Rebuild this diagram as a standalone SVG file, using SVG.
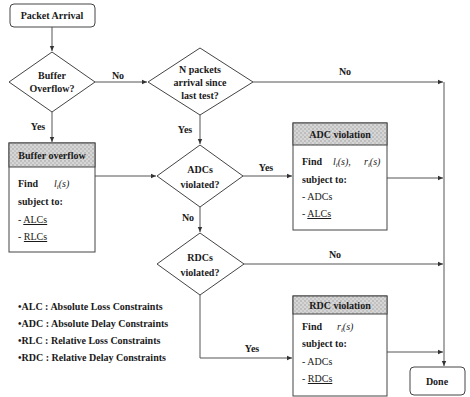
<svg xmlns="http://www.w3.org/2000/svg" width="470" height="397" viewBox="0 0 470 397">
<defs>
<pattern id="hatch" width="4" height="4" patternUnits="userSpaceOnUse">
<rect width="4" height="4" fill="#d6d6d6"/>
<rect width="2" height="2" fill="#bdbdbd"/>
<rect x="2" y="2" width="2" height="2" fill="#c4c4c4"/>
</pattern>
<marker id="arr" markerWidth="6" markerHeight="6" refX="5" refY="3" orient="auto" markerUnits="userSpaceOnUse">
<path d="M0,0.8 L5,3 L0,5.2 Z" fill="#333"/>
</marker>
</defs>
<style>
text{font-family:"Liberation Serif","Times New Roman",serif;font-weight:bold;font-size:10px;fill:#1a1a1a}
.c{text-anchor:middle}
.m{font-style:italic;font-weight:normal}
.n{font-weight:normal}
.u{text-decoration:underline}
.shape{fill:#fff;stroke:#444;stroke-width:1}
.hdr{fill:url(#hatch);stroke:#444;stroke-width:1}
.line{fill:none;stroke:#555;stroke-width:1}
.leg{font-size:10px}
</style>
<rect width="470" height="397" fill="#fff"/>

<g id="connectors">
<path class="line" d="M52,27 V51" marker-end="url(#arr)"/>
<path class="line" d="M95,82 H147" marker-end="url(#arr)"/>
<path class="line" d="M253,82 H443" marker-end="url(#arr)"/>
<path class="line" d="M444,82 V366" marker-end="url(#arr)"/>
<path class="line" d="M52,112 V142" marker-end="url(#arr)"/>
<path class="line" d="M95,176 H156" marker-end="url(#arr)"/>
<path class="line" d="M200,115 V144" marker-end="url(#arr)"/>
<path class="line" d="M243,176 H292" marker-end="url(#arr)"/>
<path class="line" d="M387,178 H443" marker-end="url(#arr)"/>
<path class="line" d="M200,207 V232" marker-end="url(#arr)"/>
<path class="line" d="M244,264 H443" marker-end="url(#arr)"/>
<path class="line" d="M200,295 V358 H292" marker-end="url(#arr)"/>
<path class="line" d="M387,352 H443" marker-end="url(#arr)"/>
<text x="118" y="79" class="c">No</text>
<text x="345" y="75" class="c">No</text>
<text x="38" y="130" class="c">Yes</text>
<text x="185" y="133" class="c">Yes</text>
<text x="266" y="171" class="c">Yes</text>
<text x="188" y="221" class="c">No</text>
<text x="335" y="258" class="c">No</text>
<text x="252" y="352" class="c">Yes</text>
</g>

<g id="packet-arrival">
<rect class="shape" x="10" y="4" width="85" height="23" rx="4"/>
<text x="52" y="19" class="c">Packet Arrival</text>
</g>

<g id="buffer-overflow-q">
<polygon class="shape" points="52,52 95,82 52,112 9,82"/>
<text x="52" y="79" class="c">Buffer</text>
<text x="52" y="92" class="c">Overflow?</text>
</g>

<g id="n-packets-q">
<polygon class="shape" points="200,48 253,82 200,115 148,82"/>
<text x="200" y="73" class="c">N packets</text>
<text x="200" y="86" class="c">arrival since</text>
<text x="200" y="99" class="c">last test?</text>
</g>

<g id="buffer-overflow">
<rect class="shape" x="9" y="143" width="86" height="109"/>
<rect class="hdr" x="9" y="143" width="86" height="24"/>
<text x="52" y="159" class="c">Buffer overflow</text>
<text x="18" y="187">Find</text>
<text x="54" y="187" class="m">l<tspan font-size="7" dy="2">i</tspan><tspan dy="-2">(s)</tspan></text>
<text x="18" y="205">subject to:</text>
<text x="18" y="223" class="n">- <tspan class="u">ALCs</tspan></text>
<text x="18" y="240" class="n">- <tspan class="u">RLCs</tspan></text>
</g>

<g id="adcs-q">
<polygon class="shape" points="200,145 243,176 200,207 157,176"/>
<text x="200" y="173" class="c">ADCs</text>
<text x="200" y="188" class="c">violated?</text>
</g>

<g id="adc-violation">
<rect class="shape" x="293" y="123" width="94" height="107"/>
<rect class="hdr" x="293" y="123" width="94" height="22"/>
<text x="340" y="138" class="c">ADC violation</text>
<text x="302" y="165">Find</text>
<text x="333" y="165" class="m">l<tspan font-size="7" dy="2">i</tspan><tspan dy="-2">(s),</tspan></text>
<text x="364" y="165" class="m">r<tspan font-size="7" dy="2">i</tspan><tspan dy="-2">(s)</tspan></text>
<text x="302" y="183">subject to:</text>
<text x="302" y="200" class="n">- ADCs</text>
<text x="302" y="217" class="n">- <tspan class="u">ALCs</tspan></text>
</g>

<g id="rdcs-q">
<polygon class="shape" points="200,233 244,264 200,295 157,264"/>
<text x="200" y="261" class="c">RDCs</text>
<text x="200" y="276" class="c">violated?</text>
</g>

<g id="rdc-violation">
<rect class="shape" x="293" y="296" width="94" height="100"/>
<rect class="hdr" x="293" y="296" width="94" height="18"/>
<text x="340" y="309" class="c">RDC violation</text>
<text x="302" y="330">Find</text>
<text x="337" y="330" class="m">r<tspan font-size="7" dy="2">i</tspan><tspan dy="-2">(s)</tspan></text>
<text x="302" y="347">subject to:</text>
<text x="302" y="365" class="n">- ADCs</text>
<text x="302" y="382" class="n">- <tspan class="u">RDCs</tspan></text>
</g>

<g id="done">
<rect class="shape" x="410" y="367" width="55" height="28" rx="4"/>
<text x="437" y="385" class="c">Done</text>
</g>

<g id="legend">
<text x="18" y="310" class="leg">•ALC : Absolute Loss Constraints</text>
<text x="18" y="327" class="leg">•ADC : Absolute Delay Constraints</text>
<text x="18" y="344" class="leg">•RLC : Relative Loss Constraints</text>
<text x="18" y="361" class="leg">•RDC : Relative Delay Constraints</text>
</g>
</svg>
